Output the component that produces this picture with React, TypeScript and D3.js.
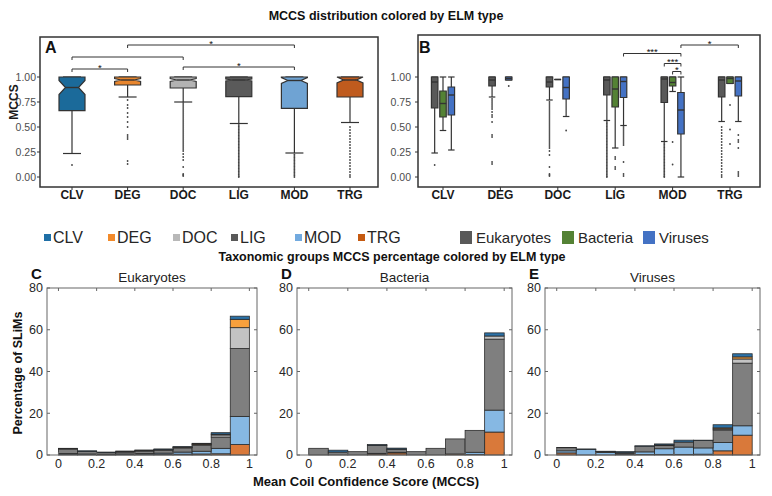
import React from 'react';
import * as d3 from 'd3';

const elmTypes = ['CLV', 'DEG', 'DOC', 'LIG', 'MOD', 'TRG'];
const taxa = ['Eukaryotes', 'Bacteria', 'Viruses'];

// panel A: MCCS per ELM type (box stats)
const aQ1 = [0.663, 0.92, 0.89, 0.803, 0.687, 0.8];
const aMedian = [0.895, 0.97, 0.97, 0.97, 0.965, 0.97];
const aQ3 = [1, 1, 1, 1, 1, 1];
const aLow = [0.235, 0.8, 0.75, 0.535, 0.24, 0.545];
const aHigh = [1, 1, 1, 1, 1, 1];
const aNotch = [0.07, 0.015, 0.015, 0.01, 0.03, 0.03];
const aOutliers = [
  [0.12],
  [0.77, 0.72, 0.69, 0.64, 0.6, 0.55, 0.5, 0.42, 0.4, 0.38, 0.16, 0.13],
  [0.74, 0.72, 0.7, 0.68, 0.66, 0.64, 0.62, 0.6, 0.58, 0.56, 0.54, 0.52, 0.5, 0.48, 0.46, 0.44, 0.42, 0.4, 0.38, 0.36, 0.34, 0.32, 0.3, 0.28, 0.26, 0.23, 0.2, 0.17, 0.1, 0.03, 0.02, 0.01],
  [0.52, 0.505, 0.49, 0.475, 0.46, 0.445, 0.43, 0.415, 0.4, 0.385, 0.37, 0.355, 0.34, 0.325, 0.31, 0.295, 0.28, 0.265, 0.25, 0.235, 0.22, 0.205, 0.19, 0.175, 0.16, 0.145, 0.13, 0.115, 0.1, 0.085, 0.07, 0.055, 0.04, 0.025, 0.01, 0.0],
  [0.225, 0.21, 0.195, 0.18, 0.165, 0.15, 0.135, 0.12, 0.105, 0.09, 0.075, 0.06, 0.045, 0.03, 0.015, 0.0],
  [0.5, 0.47, 0.44, 0.41, 0.38, 0.35, 0.32, 0.29, 0.26, 0.23, 0.2, 0.17, 0.14, 0.11, 0.08, 0.05, 0.02, 0.0],
];
const aSigFrom = ['CLV', 'CLV', 'DEG', 'DOC'];
const aSigTo = ['DEG', 'DOC', 'MOD', 'MOD'];
const aSigY = [1.08, 1.2, 1.32, 1.1];
const aSigLabel = ['*', '', '*', '*'];

// panel B: MCCS per ELM type and taxon (null = no data)
const eukQ1 = [0.69, 0.91, 0.9, 0.82, 0.745, 0.8];
const eukMedian = [0.95, 0.97, 0.95, 0.97, 0.98, 0.97];
const eukQ3 = [1, 1, 1, 1, 1, 1];
const eukLow = [0.24, 0.8, 0.77, 0.565, 0.355, 0.555];
const eukHigh = [1, 1, 1, 1, 1, 1];
const bacQ1 = [0.6, null, 0.975, 0.7, 0.91, 0.935];
const bacMedian = [0.735, null, 0.975, 0.88, 0.945, 0.985];
const bacQ3 = [0.86, null, 0.975, 1, 1, 1];
const bacLow = [0.465, null, 0.975, 0.29, 0.855, 0.935];
const bacHigh = [1, null, 0.975, 1, 1, 1];
const virQ1 = [0.62, 0.97, 0.78, 0.795, 0.43, 0.81];
const virMedian = [0.82, 0.985, 0.895, 0.955, 0.67, 0.96];
const virQ3 = [0.9, 1, 1, 1, 0.845, 1];
const virLow = [0.27, 0.97, 0.605, 0.515, 0, 0.555];
const virHigh = [1, 1, 1, 1, 1, 1];
const eukOutliers = [
  [0.12],
  [0.78, 0.76, 0.74, 0.72, 0.7, 0.68, 0.65, 0.62, 0.6, 0.55, 0.42, 0.4, 0.15, 0.13],
  [0.75, 0.73, 0.71, 0.69, 0.67, 0.65, 0.63, 0.61, 0.59, 0.57, 0.55, 0.53, 0.51, 0.49, 0.47, 0.45, 0.43, 0.41, 0.39, 0.37, 0.35, 0.33, 0.31, 0.29, 0.26, 0.22, 0.1, 0.03, 0.02, 0.01],
  [0.55, 0.535, 0.52, 0.505, 0.49, 0.475, 0.46, 0.445, 0.43, 0.415, 0.4, 0.385, 0.37, 0.355, 0.34, 0.325, 0.31, 0.295, 0.28, 0.265, 0.25, 0.235, 0.22, 0.205, 0.19, 0.175, 0.16, 0.145, 0.13, 0.115, 0.1, 0.085, 0.07, 0.055, 0.04, 0.025, 0.01, 0.0],
  [0.34, 0.325, 0.31, 0.295, 0.28, 0.265, 0.25, 0.235, 0.22, 0.205, 0.19, 0.175, 0.16, 0.145, 0.13, 0.115, 0.1, 0.085, 0.07, 0.055, 0.04, 0.025, 0.01, 0.0],
  [0.5, 0.47, 0.44, 0.41, 0.38, 0.35, 0.32, 0.29, 0.26, 0.23, 0.2, 0.17, 0.14, 0.11, 0.08, 0.05, 0.02, 0.0],
];
const bacOutliers = [[], [], [], [0.2, 0.18, 0.1, 0.08], [0.35, 0.125], [0.72, 0.475, 0.33]];
const virOutliers = [
  [],
  [0.91],
  [0.465],
  [0.5, 0.48, 0.46, 0.44, 0.42, 0.4, 0.38, 0.36, 0.34, 0.32, 0.15, 0.03, 0.01],
  [],
  [0.42, 0.37, 0.35, 0.29, 0.05, 0.03, 0.01],
];
const bSigFromCat = ['LIG', 'MOD', 'MOD', 'MOD'];
const bSigFromTaxon = ['Viruses', 'Eukaryotes', 'Bacteria', 'Viruses'];
const bSigToCat = ['MOD', 'MOD', 'MOD', 'TRG'];
const bSigToTaxon = ['Viruses', 'Viruses', 'Viruses', 'Viruses'];
const bSigY = [1.235, 1.135, 1.055, 1.32];
const bSigLabel = ['***', '***', '*', '*'];

// panels C-E: percentage of SLiMs per MCCS bin, stacked bottom -> top
const stackOrder = ['TRG', 'MOD', 'LIG', 'DOC', 'DEG', 'CLV'];
const binStarts = [0, 0.1, 0.2, 0.3, 0.4, 0.5, 0.6, 0.7, 0.8, 0.9];
const eukPct = [
  [0.3, 0.2, 0.1, 0.2, 0.2, 0.3, 0.4, 0.5, 0.6, 5.0],
  [0.4, 0.3, 0.2, 0.3, 0.5, 0.6, 1.0, 1.3, 2.6, 13.5],
  [2.2, 1.2, 0.8, 0.9, 1.2, 1.4, 2.0, 2.9, 5.4, 32.5],
  [0.1, 0.1, 0.1, 0.2, 0.2, 0.2, 0.3, 0.4, 1.0, 10.0],
  [0.0, 0.0, 0.0, 0.0, 0.0, 0.1, 0.1, 0.2, 0.4, 4.0],
  [0.2, 0.2, 0.2, 0.3, 0.3, 0.3, 0.2, 0.3, 0.7, 1.5],
];
const bacPct = [
  [0, 0, 0, 0.5, 1.0, 0, 0, 0.5, 0.3, 11.0],
  [0, 0, 0, 0.3, 0.3, 0, 0, 0, 1.0, 10.5],
  [3.2, 1.4, 1.6, 3.8, 1.3, 1.6, 3.2, 7.2, 10.5, 34.0],
  [0, 0, 0, 0, 0.2, 0, 0, 0, 0, 1.5],
  [0, 0, 0, 0, 0, 0, 0, 0, 0, 0],
  [0, 0.9, 0, 0.4, 0.5, 0, 0, 0, 0, 1.5],
];
const virPct = [
  [1.0, 0, 0, 0.4, 0.2, 0.3, 0.3, 0.4, 2.0, 9.5],
  [1.0, 2.6, 1.2, 0.2, 1.3, 2.7, 3.5, 3.0, 4.0, 4.5],
  [1.5, 0, 0.5, 0.5, 2.7, 1.5, 2.4, 3.5, 6.0, 30.0],
  [0, 0, 0, 0, 0, 0.3, 0, 0, 0.5, 2.0],
  [0, 0, 0, 0, 0, 0, 0, 0, 0.5, 1.0],
  [0.1, 0.3, 0.1, 0.5, 0.2, 0.5, 0.9, 0.2, 1.5, 1.5],
];

const boxTicks = [0, 0.25, 0.5, 0.75, 1];
const histYTicks = [0, 20, 40, 60, 80];
const histXTicks = [0, 0.2, 0.4, 0.6, 0.8, 1];
const histXTickLabels = ['0', '0.2', '0.4', '0.6', '0.8', '1'];

const boxColors = ['#1b6a9a', '#e8862e', '#b3b3b3', '#5a5a5a', '#6fa3d3', '#bf5b1e'];
const legendColors = ['#1f6fa6', '#f28a2a', '#b8b8b8', '#595959', '#72aadf', '#c55a11'];
const taxonColors = ['#595959', '#548235', '#4472c4'];
const histColors = ['#d9793a', '#86b8e3', '#7f7f7f', '#c3c3c3', '#f8a03c', '#2b72a8'];

const font = "'Liberation Sans', Arial, Helvetica, sans-serif";

function boxPath(cx: number, w: number, q1: number, med: number, q3: number, notch: number, y: any) {
  const x0 = cx - w / 2;
  const x1 = cx + w / 2;
  if (!notch) return `M${x0},${y(q3)}H${x1}V${y(q1)}H${x0}Z`;
  const nt = Math.min(q3, med + notch);
  const nb = Math.max(q1, med - notch);
  const ind = w * 0.25;
  return `M${x0},${y(q3)}H${x1}V${y(nt)}L${x1 - ind},${y(med)}L${x1},${y(nb)}V${y(q1)}H${x0}V${y(nb)}L${x0 + ind},${y(med)}L${x0},${y(nt)}Z`;
}

function Box(props: any) {
  const { cx, w, capW, q1, med, q3, lo, hi, notch, fill, y, outliers } = props;
  const ind = notch ? w * 0.25 : 0;
  return (
    <g>
      <line x1={cx} x2={cx} y1={y(lo)} y2={y(hi)} stroke="#333" strokeWidth={1.2} />
      <line x1={cx - capW / 2} x2={cx + capW / 2} y1={y(lo)} y2={y(lo)} stroke="#333" strokeWidth={1.2} />
      <line x1={cx - capW / 2} x2={cx + capW / 2} y1={y(hi)} y2={y(hi)} stroke="#333" strokeWidth={1.2} />
      <path d={boxPath(cx, w, q1, med, q3, notch, y)} fill={fill} stroke="#333" strokeWidth={1.2} />
      <line x1={cx - w / 2 + ind} x2={cx + w / 2 - ind} y1={y(med)} y2={y(med)} stroke="#333" strokeWidth={1.4} />
      {outliers.map((o: number, i: number) => (
        <circle key={i} cx={cx} cy={y(o)} r={0.9} fill="#444" />
      ))}
    </g>
  );
}

function Bracket(props: any) {
  const { x1, x2, yy, label } = props;
  return (
    <g>
      <path d={`M${x1},${yy + 3}V${yy}H${x2}V${yy + 3}`} fill="none" stroke="#333" strokeWidth={1} />
      {label && (
        <text x={(x1 + x2) / 2} y={yy + 1.5} textAnchor="middle" fontSize={9.5} fill="#111" fontFamily={font}>
          {label}
        </text>
      )}
    </g>
  );
}

function BoxFrame(props: any) {
  const { left, right, top, bottom, x, y, tickRight } = props;
  return (
    <g fontFamily={font}>
      <rect x={left} y={top} width={right - left} height={bottom - top} fill="none" stroke="#333" strokeWidth={1.5} />
      {boxTicks.map((t) => (
        <g key={t}>
          <line x1={left - 3} x2={left} y1={y(t)} y2={y(t)} stroke="#333" />
          <text x={tickRight} y={y(t)} dy="0.35em" textAnchor="end" fontSize={10.5} fill="#4d4d4d">
            {d3.format('.2f')(t)}
          </text>
        </g>
      ))}
      {elmTypes.map((c) => (
        <g key={c}>
          <line x1={x(c)} x2={x(c)} y1={bottom} y2={bottom + 3} stroke="#333" />
          <text x={x(c)} y={199} textAnchor="middle" fontSize={12} fontWeight="bold" fill="#1a1a1a">
            {c}
          </text>
        </g>
      ))}
    </g>
  );
}

function Histogram(props: any) {
  const { left, right, pct, letter, title } = props;
  const x = d3.scaleLinear().domain([-0.06, 1.04]).range([left, right]);
  const y = d3.scaleLinear().domain([0, 80]).range([455, 288]);
  const rows = binStarts.map((b, i) => {
    const r: any = { bin: b };
    stackOrder.forEach((k, j) => (r[k] = pct[j][i]));
    return r;
  });
  const series = d3.stack<any>().keys(stackOrder)(rows);
  const top = y(80);
  const bottom = y(0);
  return (
    <g fontFamily={font}>
      {series.map((s, si) =>
        s.map((d, i) =>
          d[1] - d[0] > 0 ? (
            <rect
              key={`${si}-${i}`}
              x={x(d.data.bin)}
              width={x(d.data.bin + 0.1) - x(d.data.bin)}
              y={y(d[1])}
              height={y(d[0]) - y(d[1])}
              fill={histColors[si]}
              stroke="#2b2b2b"
              strokeWidth={0.8}
            />
          ) : null
        )
      )}
      <rect x={left} y={top} width={right - left} height={bottom - top} fill="none" stroke="#666" strokeWidth={1} />
      {histYTicks.map((t) => (
        <g key={t}>
          <line x1={left} x2={left + 3} y1={y(t)} y2={y(t)} stroke="#666" />
          <line x1={right} x2={right - 3} y1={y(t)} y2={y(t)} stroke="#666" />
          <text x={left - 4} y={y(t)} dy="0.35em" textAnchor="end" fontSize={12.5} fill="#262626">
            {t}
          </text>
        </g>
      ))}
      {histXTicks.map((t, i) => (
        <g key={t}>
          <line x1={x(t)} x2={x(t)} y1={bottom} y2={bottom - 3} stroke="#666" />
          <line x1={x(t)} x2={x(t)} y1={top} y2={top + 3} stroke="#666" />
          <text x={x(t)} y={468} textAnchor="middle" fontSize={12.5} fill="#262626">
            {histXTickLabels[i]}
          </text>
        </g>
      ))}
      <text x={left - 16} y={279} fontSize={15} fontWeight="bold" fill="#111">
        {letter}
      </text>
      <text x={(left + right) / 2} y={282} textAnchor="middle" fontSize={13.5} fill="#222">
        {title}
      </text>
    </g>
  );
}

export default function App() {
  const y = d3.scaleLinear().domain([0, 1]).range([177, 77]);
  const xA = d3.scalePoint<string>().domain(elmTypes).range([72, 350]);
  const xB = d3.scalePoint<string>().domain(elmTypes).range([443, 730]);
  const dodge = d3.scaleBand<string>().domain(taxa).range([-12.5, 12.5]);
  const dx = (t: string) => (dodge(t) as number) + dodge.bandwidth() / 2;

  const bStats = [
    { q1: eukQ1, med: eukMedian, q3: eukQ3, lo: eukLow, hi: eukHigh, out: eukOutliers },
    { q1: bacQ1, med: bacMedian, q3: bacQ3, lo: bacLow, hi: bacHigh, out: bacOutliers },
    { q1: virQ1, med: virMedian, q3: virQ3, lo: virLow, hi: virHigh, out: virOutliers },
  ];

  return (
    <svg width={772} height={496} style={{ position: 'absolute', left: 0, top: 0, background: '#fff' }} fontFamily={font}>
      <rect width={772} height={496} fill="#fff" />
      <text x={386} y={20} textAnchor="middle" fontSize={12.5} fontWeight="bold" fill="#111">
        MCCS distribution colored by ELM type
      </text>

      {/* panel A */}
      <BoxFrame left={40} right={378} top={37} bottom={187} x={xA} y={y} tickRight={36} />
      {elmTypes.map((c, i) => (
        <Box
          key={c}
          cx={xA(c)}
          w={26}
          capW={18}
          q1={aQ1[i]}
          med={aMedian[i]}
          q3={aQ3[i]}
          lo={aLow[i]}
          hi={aHigh[i]}
          notch={aNotch[i]}
          fill={boxColors[i]}
          y={y}
          outliers={aOutliers[i]}
        />
      ))}
      {aSigFrom.map((f, i) => (
        <Bracket key={i} x1={xA(f)} x2={xA(aSigTo[i])} yy={y(aSigY[i])} label={aSigLabel[i]} />
      ))}
      <text x={45} y={53} fontSize={16} fontWeight="bold" fill="#111">A</text>
      <text transform="translate(17.5,102) rotate(-90)" textAnchor="middle" fontSize={12} fontWeight="bold" fill="#1a1a1a">
        MCCS
      </text>

      {/* panel B */}
      <BoxFrame left={418} right={760} top={35} bottom={187} x={xB} y={y} tickRight={411} />
      {elmTypes.map((c, i) =>
        taxa.map((t, ti) => {
          const s = bStats[ti];
          if (s.q1[i] === null) return null;
          return (
            <Box
              key={c + t}
              cx={(xB(c) as number) + dx(t)}
              w={6.5}
              capW={6.5}
              q1={s.q1[i]}
              med={s.med[i]}
              q3={s.q3[i]}
              lo={s.lo[i]}
              hi={s.hi[i]}
              notch={0}
              fill={taxonColors[ti]}
              y={y}
              outliers={s.out[i]}
            />
          );
        })
      )}
      {bSigFromCat.map((f, i) => (
        <Bracket
          key={i}
          x1={(xB(f) as number) + dx(bSigFromTaxon[i])}
          x2={(xB(bSigToCat[i]) as number) + dx(bSigToTaxon[i])}
          yy={y(bSigY[i])}
          label={bSigLabel[i]}
        />
      ))}
      <text x={419} y={53} fontSize={16} fontWeight="bold" fill="#111">B</text>

      {/* legends */}
      {elmTypes.map((c, i) => {
        const lx = [44, 108, 173, 231, 295, 358][i];
        return (
          <g key={c}>
            <rect x={lx} y={234} width={7} height={7} fill={legendColors[i]} />
            <text x={lx + 9} y={243} fontSize={16} fill="#262626">
              {c}
            </text>
          </g>
        );
      })}
      {taxa.map((t, i) => {
        const lx = [460, 562, 643][i];
        return (
          <g key={t}>
            <rect x={lx} y={231} width={12} height={13} fill={taxonColors[i]} />
            <text x={lx + 16} y={243} fontSize={15} fill="#262626">
              {t}
            </text>
          </g>
        );
      })}

      <text x={392} y={261} textAnchor="middle" fontSize={12.5} fontWeight="bold" fill="#111">
        Taxonomic groups MCCS percentage colored by ELM type
      </text>

      {/* panels C-E */}
      <Histogram left={47} right={257} pct={eukPct} letter="C" title="Eukaryotes" />
      <Histogram left={297} right={512} pct={bacPct} letter="D" title="Bacteria" />
      <Histogram left={545} right={760} pct={virPct} letter="E" title="Viruses" />
      <text transform="translate(22,373) rotate(-90)" textAnchor="middle" fontSize={12.5} fontWeight="bold" fill="#111">
        Percentage of SLiMs
      </text>
      <text x={366} y={486} textAnchor="middle" fontSize={13} fontWeight="bold" fill="#111">
        Mean Coil Confidence Score (MCCS)
      </text>
    </svg>
  );
}
